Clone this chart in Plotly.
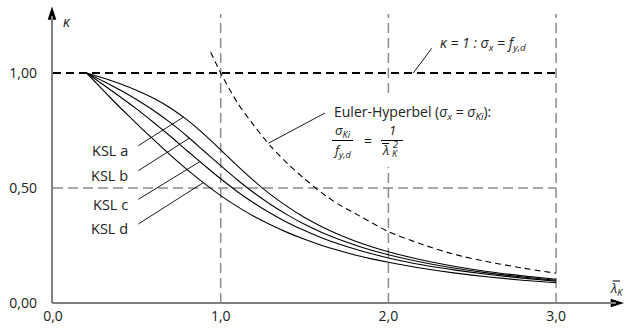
import plotly.graph_objects as go
import numpy as np

# ---------------- data ----------------
lam = [0.2, 0.3, 0.4, 0.5, 0.6, 0.7, 0.8, 0.9, 1.0, 1.1, 1.2, 1.3, 1.4, 1.5,
       1.6, 1.7, 1.8, 1.9, 2.0, 2.2, 2.4, 2.6, 2.8, 3.0]
ksl_a = [1.0, 0.978, 0.953, 0.924, 0.890, 0.848, 0.796, 0.734, 0.666, 0.596, 0.530, 0.470,
         0.418, 0.372, 0.333, 0.299, 0.270, 0.245, 0.223, 0.187, 0.159, 0.136, 0.118, 0.103]
ksl_b = [1.0, 0.964, 0.926, 0.884, 0.837, 0.784, 0.725, 0.661, 0.597, 0.535, 0.478, 0.427,
         0.382, 0.342, 0.308, 0.278, 0.252, 0.229, 0.210, 0.177, 0.151, 0.130, 0.113, 0.099]
ksl_c = [1.0, 0.949, 0.897, 0.843, 0.785, 0.725, 0.662, 0.600, 0.540, 0.484, 0.434, 0.389,
         0.349, 0.315, 0.284, 0.258, 0.235, 0.214, 0.196, 0.166, 0.143, 0.124, 0.108, 0.095]
ksl_d = [1.0, 0.924, 0.850, 0.779, 0.710, 0.643, 0.580, 0.521, 0.467, 0.419, 0.376, 0.339,
         0.306, 0.277, 0.251, 0.229, 0.209, 0.192, 0.177, 0.151, 0.130, 0.113, 0.099, 0.088]

euler_lam = [0.94, 1.0, 1.1, 1.2, 1.3, 1.4, 1.5, 1.6, 1.7, 1.8, 2.0, 2.2, 2.4, 2.6, 2.8, 3.0]
euler_kappa = [1.09, 1.0, 0.87, 0.77, 0.68, 0.605, 0.54, 0.48, 0.43, 0.39, 0.31, 0.255,
               0.21, 0.178, 0.152, 0.129]

ksl_names = ["KSL a", "KSL b", "KSL c", "KSL d"]
ksl_leader_lam = [0.777, 0.813, 0.876, 0.896]   # where each label's leader meets its curve

x_ticks = [0, 1, 2, 3]
x_ticktext = ["0,0", "1,0", "2,0", "3,0"]
y_ticks = [0, 0.5, 1.0]
y_ticktext = ["0,00", "0,50", "1,00"]

# ---------------- geometry helpers (pixel -> data) ----------------
W, H = 625, 331
ML, MR, MT, MB = 49, 0, 4, 25
X0, SX = 53.0, 167.7
Y0, SY = 303.0, 230.0
AXIS_X = 52.0          # pixel column of the vertical axis
def dx(px):
    return (px - X0) / SX
def dy(py):
    return (Y0 - py) / SY

FONT = "Open Sans"
TXT = "#222222"
GRAY = "#8c8c8c"
AXC = "#808080"

fig = go.Figure()

for ys in (ksl_a, ksl_b, ksl_c, ksl_d):
    fig.add_trace(go.Scatter(x=lam, y=ys, mode="lines",
                             line=dict(color="black", width=1.1, shape="spline", smoothing=0.6),
                             hoverinfo="skip", showlegend=False))

fig.add_trace(go.Scatter(x=euler_lam, y=euler_kappa, mode="lines",
                         line=dict(color="black", width=1.1, dash="6px,4px", shape="spline", smoothing=0.6),
                         hoverinfo="skip", showlegend=False))

shapes = []
# axes
shapes.append(dict(type="line", xref="x", yref="y", x0=dx(AXIS_X), x1=dx(616), y0=0, y1=0,
                   line=dict(color=AXC, width=2), layer="above"))
shapes.append(dict(type="line", xref="x", yref="y", x0=dx(AXIS_X), x1=dx(AXIS_X), y0=0, y1=dy(16),
                   line=dict(color=AXC, width=2), layer="above"))
# gray dashed grid
for xv in [1, 2, 3]:
    shapes.append(dict(type="line", xref="x", yref="y", x0=xv, x1=xv, y0=0, y1=dy(14),
                       line=dict(color=GRAY, width=1.5, dash="10px,5px"), layer="below"))
shapes.append(dict(type="line", xref="x", yref="y", x0=0, x1=3, y0=0.5, y1=0.5,
                   line=dict(color=GRAY, width=1.5, dash="10px,5px"), layer="below"))
# kappa = 1 line
shapes.append(dict(type="line", xref="x", yref="y", x0=0, x1=3, y0=1.0, y1=1.0,
                   line=dict(color="black", width=2, dash="8px,5px"), layer="below"))
# white box behind the Euler text (interrupts the grid line)
shapes.append(dict(type="rect", xref="x", yref="y", x0=dx(327), x1=dx(500), y0=dy(167), y1=dy(97),
                   fillcolor="white", line=dict(width=0), layer="above"))

# KSL leader lines
ksl_label_y = [150.5, 175.5, 204.0, 228.5]
ksl_leader_y0 = [145.7, 170.7, 199.3, 224.0]
for ys, lt, y0p in zip((ksl_a, ksl_b, ksl_c, ksl_d), ksl_leader_lam, ksl_leader_y0):
    kt = float(np.interp(lt, lam, ys))
    shapes.append(dict(type="line", xref="x", yref="y", x0=dx(138.3), y0=dy(y0p), x1=lt, y1=kt,
                       line=dict(color="black", width=0.9), layer="above"))

# Euler leader
le = 1.284
ke = float(np.interp(le, euler_lam, euler_kappa))
shapes.append(dict(type="line", xref="x", yref="y", x0=le, y0=ke, x1=dx(325), y1=dy(113),
                   line=dict(color="black", width=0.9), layer="above"))
# kappa=1 leader
shapes.append(dict(type="line", xref="x", yref="y", x0=dx(413.3), y0=1.0, x1=dx(431.7), y1=dy(48.3),
                   line=dict(color="black", width=0.9), layer="above"))

# fraction bars
shapes.append(dict(type="line", xref="x", yref="y", x0=dx(332), x1=dx(353), y0=dy(140.5), y1=dy(140.5),
                   line=dict(color="black", width=1), layer="above"))
shapes.append(dict(type="line", xref="x", yref="y", x0=dx(381), x1=dx(403), y0=dy(140.5), y1=dy(140.5),
                   line=dict(color="black", width=1), layer="above"))
# overbar of lambda in the fraction
shapes.append(dict(type="line", xref="x", yref="y", x0=dx(382), x1=dx(389), y0=dy(143.5), y1=dy(143.5),
                   line=dict(color="black", width=1), layer="above"))
# overbar of lambda axis label
shapes.append(dict(type="line", xref="x", yref="y", x0=dx(612.5), x1=dx(620), y0=dy(281), y1=dy(281),
                   line=dict(color="black", width=1), layer="above"))

# axis arrow heads (markers with the tip at the given point)
fig.add_trace(go.Scatter(x=[dx(624), dx(AXIS_X)], y=[0, dy(6.5)], mode="markers", cliponaxis=False,
                         marker=dict(symbol="arrow", size=14, angle=[90, 0], color="black",
                                     line=dict(width=0)),
                         hoverinfo="skip", showlegend=False))

ann = []
def text(x, y, t, size=14, xanchor="center", yanchor="middle"):
    ann.append(dict(x=x, y=y, xref="x", yref="y", text=t, showarrow=False,
                    xanchor=xanchor, yanchor=yanchor,
                    font=dict(family=FONT, size=size, color=TXT)))

for name, yp in zip(ksl_names, ksl_label_y):
    text(dx(130), dy(yp), name, xanchor="right", size=14.5)

text(dx(66.5), dy(21), "<i>κ</i>", size=14)
text(dx(616), dy(289), "<i>λ</i><sub><i>K</i></sub>", size=13)

text(dx(332), dy(112), "Euler-Hyperbel (<i>σ</i><sub><i>x</i></sub> = <i>σ</i><sub><i>Ki</i></sub>):",
     xanchor="left")
text(dx(342.5), dy(131), "<i>σ</i><sub><i>Ki</i></sub>", size=13)
text(dx(342.5), dy(151), "<i>f</i><sub><i>y,d</i></sub>", size=13)
text(dx(368), dy(140), "=", size=14)
text(dx(392), dy(130), "<i>1</i>", size=13)
text(dx(385.5), dy(150), "<i>λ</i>", size=13)
text(dx(395), dy(153), "<i>K</i>", size=9)
text(dx(395), dy(144.5), "<i>2</i>", size=9)

text(dx(438), dy(43), "<i>κ = 1 : σ</i><sub><i>x</i></sub><i> = f</i><sub><i>y,d</i></sub>",
     xanchor="left")

fig.update_layout(
    width=W, height=H,
    margin=dict(l=ML, r=MR, t=MT, b=MB, autoexpand=False),
    paper_bgcolor="white", plot_bgcolor="white",
    showlegend=False,
    shapes=shapes, annotations=ann,
    xaxis=dict(range=[dx(ML), dx(W - MR)], showgrid=False, zeroline=False, automargin=False,
               showline=False,
               tickvals=x_ticks, ticktext=x_ticktext, ticks="", ticklabelstandoff=0,
               tickfont=dict(family=FONT, size=14, color=TXT), fixedrange=True),
    yaxis=dict(range=[dy(H - MB), dy(MT)], showgrid=False, zeroline=False, automargin=False,
               showline=False,
               tickvals=y_ticks, ticktext=y_ticktext, ticks="", ticklabelstandoff=11,
               tickfont=dict(family=FONT, size=14, color=TXT), fixedrange=True),
)

fig.write_html("out.html", config={"displayModeBar": False},
               post_script="document.body.style.margin='0';document.body.style.overflow='hidden';")
